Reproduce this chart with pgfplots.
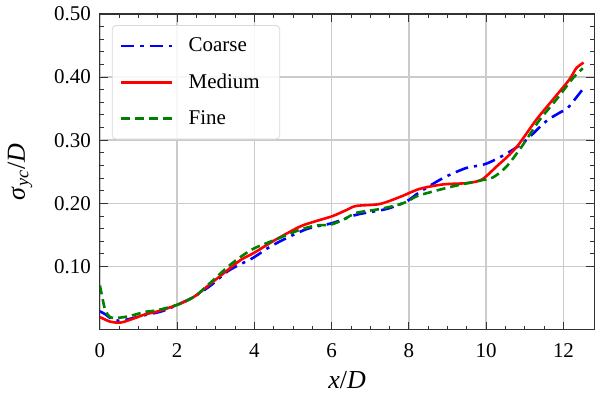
\documentclass[border=0pt]{standalone}
\usepackage{fontspec}
\setmainfont{Liberation Serif}
\usepackage{pgfplots}
\pgfplotsset{compat=1.18}
\definecolor{gridgray}{HTML}{CBCBCB}
\definecolor{fgreen}{HTML}{008000}
\begin{document}
\begin{tikzpicture}
\begin{axis}[
  scale only axis,
  width=247.5pt, height=158pt,
  xmin=0, xmax=12.8, ymin=0, ymax=0.5,
  xtick={0,2,...,12},
  ytick={0.1,0.2,0.3,0.4,0.5},
  yticklabels={0.10,0.20,0.30,0.40,0.50},
  minor x tick num=3,
  minor y tick num=4,
  tick align=inside,
  xtick pos=both, ytick pos=both,
  major tick length=4pt, minor tick length=2pt,
  every tick/.style={black!80, line width=0.5pt},
  axis line style={black!80, line width=0.6pt},
  grid=major,
  major grid style={gridgray, line width=0.8pt},
  /pgf/number format/assume math mode=true,
  ticklabel style={font=\fontsize{10.5}{12}\selectfont},
  xticklabel style={yshift=-3.5pt},
  yticklabel style={xshift=-1pt},
  xlabel={\textit{x}/\textit{D}},
  ylabel={\textit{σ}\textsubscript{\textit{yc}}/\textit{D}},
  label style={font=\fontsize{13}{15}\selectfont},
  xlabel style={yshift=0pt},
  ylabel style={yshift=4pt},
  legend style={at={(0.024,0.965)}, anchor=north west, draw=gray!30,
    rounded corners=2pt, fill=white, fill opacity=0.85, text opacity=1,
    font=\fontsize{10.5}{12}\selectfont, inner xsep=4pt, inner ysep=4pt,
    row sep=5.6pt, /tikz/every odd column/.append style={column sep=6pt}},
  legend cell align=left,
  legend image code/.code={\draw[#1] plot coordinates {(0pt,0pt) (25pt,0pt)};},
]
\coordinate (bl) at (rel axis cs:0,0);
\coordinate (tr) at (rel axis cs:1,1);
\addplot[blue, line width=1.3pt, dash pattern=on 6.5pt off 3pt on 1.6pt off 3pt, smooth, tension=0.5] coordinates {
(0.0,0.029) (0.15,0.024) (0.3,0.017) (0.5,0.014) (0.7,0.016) (1.16,0.023)
(1.6,0.029) (2.03,0.040) (2.46,0.053) (2.89,0.071) (3.32,0.093) (3.75,0.107)
(4.0,0.115) (4.48,0.134) (5.34,0.159) (6.03,0.169) (6.64,0.182) (7.41,0.191)
(7.93,0.203) (8.28,0.218) (8.88,0.240) (9.48,0.256) (9.91,0.261) (10.26,0.270)
(10.69,0.285) (11.03,0.300) (11.55,0.330) (11.94,0.345) (12.11,0.351) (12.5,0.381)
};
\addlegendentry{Coarse}
\addplot[red, line width=1.3pt, smooth, tension=0.5] coordinates {
(0.0,0.020) (0.1,0.017) (0.25,0.013) (0.45,0.011) (0.6,0.012) (0.8,0.016)
(1.16,0.024) (1.5,0.029) (2.03,0.040) (2.46,0.053) (2.89,0.074) (3.32,0.095)
(3.66,0.111) (4.0,0.122) (4.48,0.140) (5.17,0.163) (5.6,0.172) (6.03,0.180)
(6.4,0.190) (6.64,0.196) (7.24,0.199) (7.76,0.210) (8.28,0.223) (8.88,0.230)
(9.48,0.232) (9.83,0.236) (10.0,0.243) (10.26,0.258) (10.6,0.277) (10.86,0.295)
(11.29,0.332) (11.72,0.364) (12.15,0.396) (12.33,0.414) (12.52,0.423)
};
\addlegendentry{Medium\hspace*{4pt}}
\addplot[fgreen, line width=1.3pt, dash pattern=on 4.5pt off 2.5pt, smooth, tension=0.5] coordinates {
(0.0,0.070) (0.05,0.055) (0.12,0.035) (0.2,0.024) (0.3,0.019) (0.52,0.019)
(0.8,0.022) (1.16,0.028) (1.5,0.031) (2.03,0.040) (2.46,0.053) (2.89,0.076)
(3.32,0.100) (3.66,0.116) (4.0,0.129) (4.48,0.141) (5.17,0.158) (5.6,0.165)
(5.95,0.166) (6.3,0.174) (6.64,0.185) (7.24,0.191) (7.84,0.200) (8.19,0.211)
(8.45,0.216) (9.14,0.227) (9.83,0.236) (10.17,0.241) (10.52,0.258) (10.86,0.285)
(11.03,0.300) (11.38,0.332) (11.81,0.364) (12.24,0.398) (12.5,0.414)
};
\addlegendentry{Fine}
\end{axis}
\pgfresetboundingbox
\path (bl) ++(-50pt,-31.5pt) coordinate (a);
\path (tr) ++(0.3pt,7pt) coordinate (b);
\path[use as bounding box] (a) rectangle (b);
\end{tikzpicture}
\end{document}
